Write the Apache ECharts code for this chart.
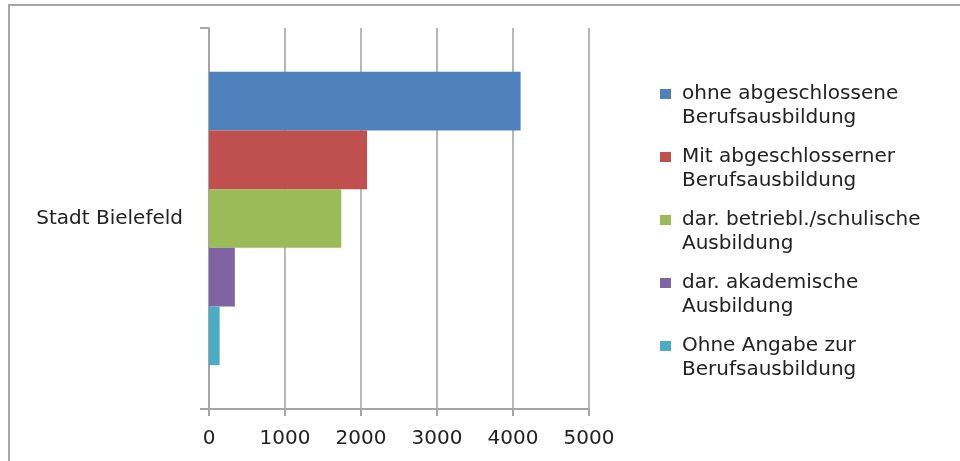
<!DOCTYPE html>
<html>
<head>
<meta charset="utf-8">
<script src="https://cdn.jsdelivr.net/npm/echarts@6/dist/echarts.min.js"></script>
<style>html,body{margin:0;padding:0;background:#fff;}#c{width:960px;height:461px;}</style>
</head>
<body>
<div id="c"></div>
<script>
const categories = ['Stadt Bielefeld'];
const seriesNames = [
  'ohne abgeschlossene\nBerufsausbildung',
  'Mit abgeschlosserner\nBerufsausbildung',
  'dar. betriebl./schulische\nAusbildung',
  'dar. akademische\nAusbildung',
  'Ohne Angabe zur\nBerufsausbildung'
];
const ohneAbschluss = [4100];
const mitAbschluss = [2080];
const betrieblSchulisch = [1740];
const akademisch = [340];
const ohneAngabe = [140];
const xTicks = [0, 1000, 2000, 3000, 4000, 5000];
const colors = ['#4F81BD', '#C0504D', '#9BBB59', '#8064A2', '#4BACC6'];

const values = [ohneAbschluss, mitAbschluss, betrieblSchulisch, akademisch, ohneAngabe];
const FONT = 'DejaVu Sans';
const chart = echarts.init(document.getElementById('c'));
chart.setOption({
  animation: false,
  color: colors,
  textStyle: { fontFamily: FONT },
  graphic: [{
    type: 'rect',
    shape: { x: 9, y: 5, width: 980, height: 480 },
    style: { fill: 'none', stroke: '#a6a6a6', lineWidth: 2 },
    silent: true
  }],
  grid: { left: 209, right: 371, top: 28, bottom: 52 },
  legend: {
    orient: 'vertical',
    left: 660,
    top: 58,
    padding: 0,
    itemGap: -9,
    itemWidth: 11,
    itemHeight: 10,
    icon: 'rect',
    formatter: function (name) { return '\u00a0\n' + name; },
    textStyle: { fontFamily: FONT, fontSize: 20, color: '#222', lineHeight: 24, padding: [0, 0, 0, 6] },
    data: seriesNames
  },
  xAxis: {
    type: 'value',
    min: 0,
    max: 5000,
    interval: 1000,
    axisLine: { show: true, lineStyle: { color: '#a6a6a6', width: 2 } },
    axisTick: { show: true, length: 7, lineStyle: { color: '#a6a6a6', width: 2 } },
    axisLabel: {
      fontFamily: FONT, fontSize: 20, color: '#222', margin: 20,
      formatter: function (v) { return xTicks.indexOf(v) >= 0 ? String(v) : ''; }
    },
    splitLine: { show: true, lineStyle: { color: '#b8b8b8', width: 2 } }
  },
  yAxis: {
    type: 'category',
    inverse: true,
    data: categories,
    axisLine: { show: true, lineStyle: { color: '#a6a6a6', width: 2 } },
    axisTick: { show: true, length: 9, lineStyle: { color: '#a6a6a6', width: 2 } },
    axisLabel: { fontFamily: FONT, fontSize: 20, color: '#222', margin: 26 }
  },
  series: seriesNames.map(function (n, i) {
    return {
      name: n,
      type: 'bar',
      data: values[i],
      barGap: '0%',
      barCategoryGap: '23%'
    };
  })
});
</script>
</body>
</html>
